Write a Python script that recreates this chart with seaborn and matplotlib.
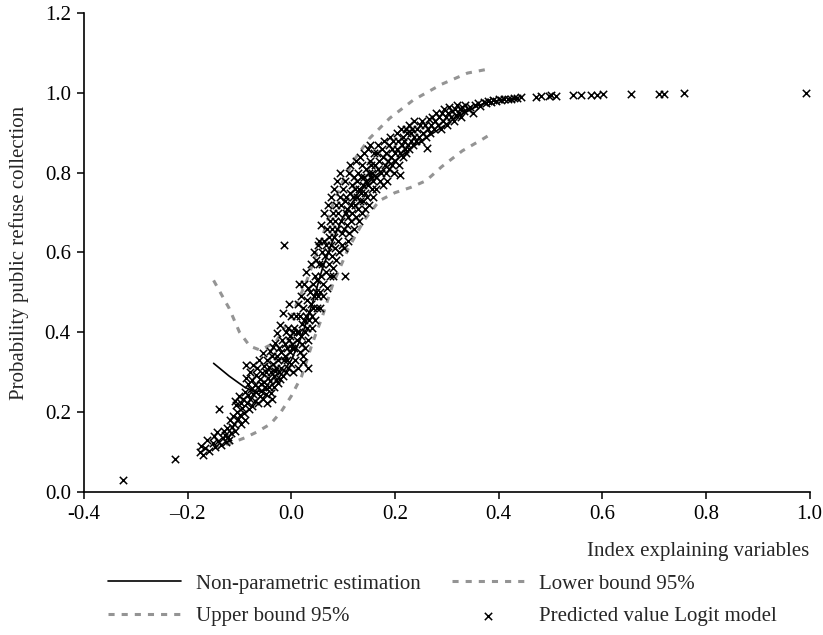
import matplotlib
matplotlib.use("Agg")
import matplotlib.pyplot as plt
import seaborn as sns

# ---------------- data ----------------
# Non-parametric estimation curve
np_x = [-0.150, -0.120, -0.090, -0.070, -0.050, -0.030, 0.000, 0.020, 0.040, 0.060,
        0.080, 0.100, 0.130, 0.160, 0.200, 0.240, 0.280, 0.320, 0.360, 0.380]
np_y = [0.322, 0.290, 0.262, 0.250, 0.255, 0.275, 0.330, 0.390, 0.470, 0.560,
        0.630, 0.690, 0.750, 0.790, 0.830, 0.870, 0.905, 0.940, 0.968, 0.978]

# Upper bound 95%
up_x = [-0.150, -0.120, -0.100, -0.080, -0.060, -0.030, 0.000, 0.030, 0.060, 0.080,
        0.100, 0.120, 0.150, 0.190, 0.235, 0.290, 0.340, 0.380]
up_y = [0.530, 0.460, 0.400, 0.365, 0.355, 0.375, 0.440, 0.530, 0.640, 0.720,
        0.780, 0.830, 0.885, 0.937, 0.982, 1.022, 1.050, 1.060]

# Lower bound 95%
lo_x = [-0.150, -0.120, -0.090, -0.066, -0.040, -0.020, 0.000, 0.020, 0.040, 0.060,
        0.080, 0.110, 0.140, 0.170, 0.200, 0.230, 0.260, 0.290, 0.330, 0.370, 0.380]
lo_y = [0.110, 0.120, 0.135, 0.150, 0.170, 0.200, 0.240, 0.290, 0.370, 0.440,
        0.520, 0.610, 0.680, 0.730, 0.750, 0.763, 0.780, 0.815, 0.855, 0.885, 0.893]

# Predicted value Logit model (scatter)
pred_x_a = [-0.325, -0.225, -0.176, -0.174, -0.171, -0.167,
            -0.162, -0.158, -0.152, -0.149, -0.147, -0.144,
            -0.141, -0.139, -0.136, -0.132, -0.130, -0.128,
            -0.126, -0.124, -0.122, -0.121, -0.119, -0.117,
            -0.115, -0.113, -0.111, -0.109, -0.108, -0.106,
            -0.104, -0.103, -0.101, -0.100, -0.098, -0.097,
            -0.095, -0.093, -0.092, -0.090, -0.089, -0.088,
            -0.087, -0.085, -0.084, -0.083, -0.081, -0.080,
            -0.079, -0.078, -0.076, -0.075, -0.074, -0.073,
            -0.071, -0.070, -0.069, -0.068, -0.066, -0.065,
            -0.064, -0.063, -0.061, -0.060, -0.059, -0.058,
            -0.056, -0.055, -0.054, -0.053, -0.052]
pred_y_a = [0.030, 0.082, 0.100, 0.115, 0.092, 0.110,
            0.130, 0.102, 0.122, 0.140, 0.112, 0.150,
            0.128, 0.208, 0.118, 0.135, 0.152, 0.142,
            0.125, 0.160, 0.138, 0.130, 0.180, 0.148,
            0.162, 0.190, 0.170, 0.152, 0.228, 0.218,
            0.200, 0.182, 0.240, 0.192, 0.222, 0.170,
            0.210, 0.232, 0.198, 0.180, 0.250, 0.285,
            0.318, 0.222, 0.270, 0.242, 0.208, 0.300,
            0.232, 0.258, 0.280, 0.215, 0.245, 0.318,
            0.268, 0.228, 0.292, 0.250, 0.310, 0.222,
            0.262, 0.330, 0.240, 0.282, 0.270, 0.252,
            0.298, 0.348, 0.232, 0.275, 0.315]

pred_x_b = [-0.050, -0.049, -0.048, -0.047, -0.046, -0.045,
            -0.044, -0.043, -0.042, -0.041, -0.040, -0.039,
            -0.038, -0.037, -0.036, -0.035, -0.034, -0.033,
            -0.032, -0.031, -0.030, -0.029, -0.028, -0.027,
            -0.026, -0.025, -0.024, -0.023, -0.022, -0.021,
            -0.020, -0.019, -0.018, -0.017, -0.016, -0.015,
            -0.014, -0.013, -0.012, -0.011, -0.010, -0.009,
            -0.008, -0.007, -0.006, -0.005, -0.004, -0.003,
            -0.002, -0.001, 0.000, 0.001, 0.002, 0.003]
pred_y_b = [0.262, 0.300, 0.245, 0.330, 0.222, 0.285,
            0.312, 0.262, 0.352, 0.278, 0.300, 0.248,
            0.340, 0.232, 0.362, 0.320, 0.290, 0.262,
            0.372, 0.302, 0.310, 0.280, 0.340, 0.398,
            0.272, 0.330, 0.300, 0.360, 0.282, 0.418,
            0.350, 0.310, 0.380, 0.290, 0.448, 0.330,
            0.620, 0.340, 0.370, 0.300, 0.400, 0.360,
            0.330, 0.410, 0.310, 0.470, 0.380, 0.350,
            0.390, 0.320, 0.440, 0.370, 0.360, 0.400]

pred_x_c = [0.004, 0.006, 0.005, 0.009, 0.008, 0.011,
            0.013, 0.012, 0.015, 0.017, 0.016, 0.019,
            0.021, 0.020, 0.023, 0.022, 0.026, 0.025,
            0.028, 0.027, 0.030, 0.031, 0.029, 0.034,
            0.033, 0.036, 0.035, 0.038, 0.037, 0.040,
            0.042, 0.041, 0.044, 0.043, 0.046, 0.045,
            0.048, 0.047, 0.050, 0.049, 0.051, 0.052,
            0.018, 0.024, 0.032, 0.039, 0.014, 0.010]
pred_y_c = [0.30, 0.41, 0.36, 0.44, 0.33, 0.38,
            0.47, 0.31, 0.40, 0.35, 0.44, 0.49,
            0.37, 0.42, 0.34, 0.46, 0.40, 0.52,
            0.44, 0.36, 0.48, 0.41, 0.55, 0.45,
            0.38, 0.50, 0.43, 0.57, 0.47, 0.41,
            0.52, 0.46, 0.60, 0.49, 0.43, 0.54,
            0.50, 0.58, 0.46, 0.53, 0.62, 0.49,
            0.39, 0.43, 0.51, 0.44, 0.52, 0.40]

pred_x_d = [0.053, 0.055, 0.054, 0.057, 0.056, 0.059,
            0.058, 0.061, 0.060, 0.063, 0.062, 0.065,
            0.064, 0.067, 0.066, 0.069, 0.068, 0.071,
            0.070, 0.073, 0.072, 0.075, 0.074, 0.077,
            0.076, 0.079, 0.078, 0.081, 0.080, 0.083,
            0.082, 0.085, 0.084, 0.087, 0.086, 0.089,
            0.088, 0.091, 0.090, 0.093, 0.092, 0.095,
            0.094, 0.097, 0.096, 0.099, 0.098, 0.104,
            0.080, 0.033, 0.023]
pred_y_d = [0.57, 0.50, 0.63, 0.54, 0.46, 0.60,
            0.67, 0.52, 0.57, 0.63, 0.49, 0.59,
            0.70, 0.55, 0.62, 0.66, 0.51, 0.60,
            0.72, 0.57, 0.64, 0.68, 0.54, 0.62,
            0.74, 0.59, 0.66, 0.70, 0.56, 0.64,
            0.76, 0.61, 0.68, 0.72, 0.58, 0.66,
            0.78, 0.63, 0.70, 0.74, 0.60, 0.68,
            0.80, 0.65, 0.72, 0.76, 0.62, 0.54,
            0.54, 0.31, 0.325]

pred_x_e = [0.101, 0.103, 0.102, 0.105, 0.104, 0.107,
            0.106, 0.109, 0.108, 0.111, 0.110, 0.113,
            0.112, 0.115, 0.114, 0.117, 0.116, 0.119,
            0.118, 0.121, 0.120, 0.123, 0.122, 0.125,
            0.124, 0.127, 0.126, 0.129, 0.128, 0.131,
            0.130, 0.133, 0.132, 0.135, 0.134, 0.137,
            0.136, 0.139, 0.138, 0.141, 0.140, 0.143,
            0.142, 0.145, 0.144, 0.147, 0.146, 0.149,
            0.148, 0.151, 0.150, 0.153, 0.152, 0.155,
            0.154, 0.157, 0.156, 0.159, 0.158]
pred_y_e = [0.66, 0.73, 0.61, 0.70, 0.78, 0.67,
            0.74, 0.63, 0.71, 0.80, 0.69, 0.75,
            0.65, 0.72, 0.82, 0.77, 0.68, 0.74,
            0.70, 0.79, 0.66, 0.76, 0.72, 0.83,
            0.69, 0.78, 0.74, 0.71, 0.80, 0.76,
            0.68, 0.84, 0.73, 0.79, 0.75, 0.70,
            0.82, 0.77, 0.73, 0.85, 0.79, 0.75,
            0.71, 0.81, 0.78, 0.86, 0.74, 0.80,
            0.77, 0.83, 0.72, 0.79, 0.87, 0.76,
            0.82, 0.74, 0.80, 0.85, 0.78]

pred_x_f = [0.161, 0.163, 0.165, 0.164, 0.168, 0.167,
            0.171, 0.170, 0.174, 0.173, 0.177, 0.176,
            0.180, 0.179, 0.183, 0.182, 0.186, 0.185,
            0.189, 0.188, 0.192, 0.191, 0.195, 0.194,
            0.198, 0.197, 0.201, 0.200, 0.204, 0.203,
            0.207, 0.206, 0.210, 0.209, 0.213, 0.212,
            0.216, 0.215, 0.219, 0.218, 0.222, 0.221,
            0.225, 0.224, 0.228, 0.227, 0.231, 0.230,
            0.234, 0.233, 0.237, 0.236, 0.240, 0.243,
            0.246, 0.248]
pred_y_f = [0.82, 0.76, 0.85, 0.79, 0.81, 0.87,
            0.78, 0.83, 0.86, 0.80, 0.84, 0.77,
            0.82, 0.88, 0.80, 0.85, 0.83, 0.78,
            0.87, 0.81, 0.84, 0.89, 0.82, 0.86,
            0.80, 0.88, 0.85, 0.83, 0.90, 0.86,
            0.82, 0.88, 0.795, 0.85, 0.87, 0.91,
            0.84, 0.89, 0.86, 0.88, 0.91, 0.85,
            0.87, 0.90, 0.86, 0.92, 0.88, 0.90,
            0.87, 0.91, 0.89, 0.93, 0.88, 0.91,
            0.89, 0.92]

pred_x_g = [0.250, 0.252, 0.255, 0.257, 0.260, 0.261,
            0.263, 0.265, 0.268, 0.270, 0.272, 0.275,
            0.278, 0.280, 0.283, 0.285, 0.288, 0.290,
            0.293, 0.295, 0.298, 0.300, 0.303, 0.305,
            0.308, 0.310, 0.313, 0.315, 0.318, 0.320,
            0.323, 0.325, 0.328, 0.330, 0.333, 0.336,
            0.340, 0.345, 0.350, 0.355, 0.360, 0.365,
            0.371, 0.376, 0.380, 0.385, 0.390, 0.395,
            0.400, 0.404, 0.410, 0.418, 0.424, 0.429,
            0.436, 0.443]
pred_y_g = [0.880, 0.930, 0.900, 0.920, 0.890, 0.861,
            0.910, 0.935, 0.900, 0.920, 0.940, 0.910,
            0.930, 0.950, 0.920, 0.940, 0.910, 0.950,
            0.930, 0.960, 0.940, 0.920, 0.950, 0.965,
            0.940, 0.955, 0.930, 0.960, 0.945, 0.970,
            0.950, 0.960, 0.940, 0.965, 0.955, 0.970,
            0.960, 0.965, 0.950, 0.970, 0.975, 0.968,
            0.978, 0.975, 0.980, 0.978, 0.982, 0.980,
            0.985, 0.982, 0.984, 0.986, 0.985, 0.988,
            0.987, 0.990]

pred_x_h = [0.472, 0.482, 0.497, 0.501, 0.511, 0.543,
            0.559, 0.578, 0.590, 0.601, 0.656, 0.710,
            0.720, 0.758, 0.994]
pred_y_h = [0.991, 0.992, 0.993, 0.994, 0.993, 0.995,
            0.995, 0.996, 0.996, 0.997, 0.997, 0.998,
            0.998, 0.999, 0.9995]

pred_x = pred_x_a + pred_x_b + pred_x_c + pred_x_d + pred_x_e + pred_x_f + pred_x_g + pred_x_h
pred_y = pred_y_a + pred_y_b + pred_y_c + pred_y_d + pred_y_e + pred_y_f + pred_y_g + pred_y_h
assert len(pred_x) == len(pred_y), (len(pred_x), len(pred_y))

x_ticks = [-0.4, -0.2, 0.0, 0.2, 0.4, 0.6, 0.8, 1.0]
x_tick_labels = ["-0.4", "\u20130.2", "0.0", "0.2", "0.4", "0.6", "0.8", "1.0"]
y_ticks = [0.0, 0.2, 0.4, 0.6, 0.8, 1.0, 1.2]
y_tick_labels = ["0.0", "0.2", "0.4", "0.6", "0.8", "1.0", "1.2"]

labels = ["Non-parametric estimation", "Upper bound 95%", "Lower bound 95%",
          "Predicted value Logit model"]
x_label = "Index explaining variables"
y_label = "Probability public refuse collection"

# ---------------- style ----------------
sns.set_style("ticks")
plt.rcParams["font.family"] = ["Liberation Serif", "DejaVu Serif"]
plt.rcParams["axes.unicode_minus"] = False

FS = 15
GREY = "#949494"
DASH = (0, (2.0, 2.3))

fig = plt.figure(figsize=(8.23, 6.35), dpi=100)
ax = fig.add_axes([0.1021, 0.2257, 0.8816, 0.7534])

sns.lineplot(x=up_x, y=up_y, ax=ax, color=GREY, lw=2.2, linestyle=DASH,
             sort=False, estimator=None, label=labels[1], zorder=2)
sns.lineplot(x=lo_x, y=lo_y, ax=ax, color=GREY, lw=2.2, linestyle=DASH,
             sort=False, estimator=None, label=labels[2], zorder=2)
sns.scatterplot(x=pred_x, y=pred_y, ax=ax, marker="x", color="black", s=28,
                linewidth=1.1, label=labels[3], zorder=3)
sns.lineplot(x=np_x, y=np_y, ax=ax, color="black", lw=1.2, sort=False,
             estimator=None, label=labels[0], zorder=4)

ax.set_xlim(-0.4, 1.0)
ax.set_ylim(0.0, 1.2)
ax.set_xticks(x_ticks)
ax.set_xticklabels(x_tick_labels)
ax.set_yticks(y_ticks)
ax.set_yticklabels(y_tick_labels)
ax.tick_params(direction="out", length=5, width=1.1, labelsize=FS, pad=4.5,
               colors="black")
for s in ["top", "right"]:
    ax.spines[s].set_visible(False)
for s in ["left", "bottom"]:
    ax.spines[s].set_linewidth(1.2)
    ax.spines[s].set_color("black")

ax.set_xlabel(x_label, fontsize=FS, loc="right", labelpad=13)
ax.set_ylabel(y_label, fontsize=FS, labelpad=11)

handles, labs = ax.get_legend_handles_labels()
order = [labs.index(l) for l in labels]
ax.legend([handles[i] for i in order], [labs[i] for i in order],
          ncol=2, frameon=False, fontsize=FS, loc="upper left",
          bbox_to_anchor=(108 / 823, 1 - 574 / 635), bbox_transform=fig.transFigure,
          borderpad=0, borderaxespad=0, handlelength=3.5, handletextpad=0.7,
          columnspacing=1.5, labelspacing=0.62, scatterpoints=1)

fig.savefig("out.png", dpi=100)
